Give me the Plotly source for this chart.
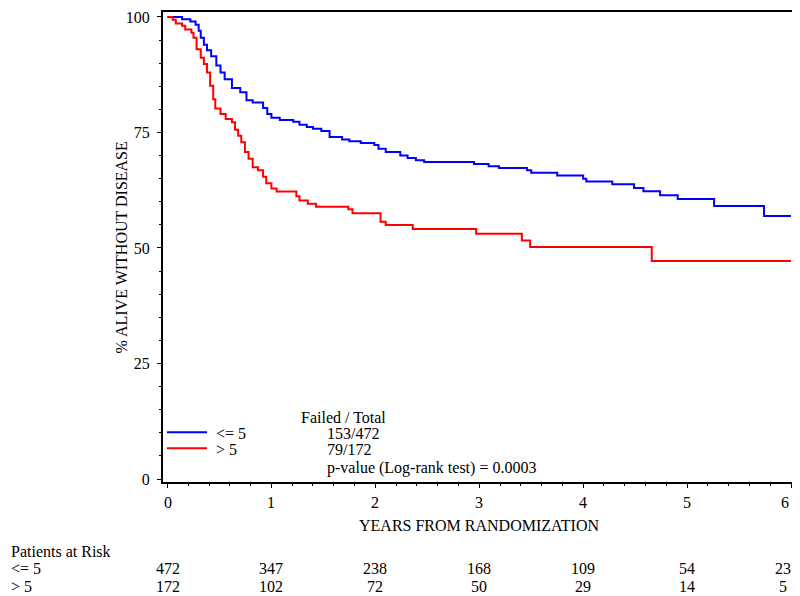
import plotly.graph_objects as go

# Kaplan-Meier step data (years, % alive without disease)
blue_name = "<= 5"
blue_t = [0, 0.14, 0.22, 0.27, 0.30, 0.32, 0.35, 0.38, 0.42, 0.47, 0.51, 0.55, 0.62, 0.70, 0.76,
          0.82, 0.92, 0.96, 1.00, 1.08, 1.21, 1.27, 1.34, 1.40, 1.48, 1.56, 1.68, 1.75, 1.86, 1.99,
          2.03, 2.10, 2.24, 2.31, 2.39, 2.47, 2.95, 3.09, 3.19, 3.46, 3.50, 3.75, 4.00, 4.03, 4.28,
          4.49, 4.58, 4.74, 4.91, 5.26, 5.74, 6.00]
blue_s = [100, 99.5, 99.0, 98.3, 97.0, 95.5, 94.0, 92.8, 91.5, 89.5, 88.0, 86.5, 84.6, 83.7, 82.0,
          81.5, 80.3, 79.0, 78.2, 77.7, 77.3, 76.7, 76.2, 75.8, 75.3, 74.0, 73.5, 73.1, 72.7, 72.3,
          71.5, 70.8, 70.0, 69.5, 69.0, 68.6, 68.2, 67.7, 67.3, 66.8, 66.3, 65.7, 65.0, 64.4, 63.8,
          63.0, 62.3, 61.4, 60.6, 59.1, 56.9, 56.9]

red_name = "> 5"
red_t = [0, 0.05, 0.08, 0.14, 0.17, 0.23, 0.25, 0.28, 0.32, 0.35, 0.38, 0.41, 0.44, 0.46, 0.51,
         0.56, 0.62, 0.65, 0.68, 0.71, 0.745, 0.78, 0.82, 0.87, 0.92, 0.95, 1.00, 1.05, 1.24, 1.27,
         1.35, 1.43, 1.74, 1.78, 2.05, 2.10, 2.36, 2.97, 3.41, 3.49, 4.66, 6.00]
red_s = [100, 99.4, 98.6, 98.1, 97.3, 96.6, 95.5, 93.0, 91.2, 89.8, 88.0, 85.1, 82.2, 80.2, 79.0,
         77.9, 77.2, 75.6, 74.3, 72.9, 70.8, 69.3, 67.5, 66.8, 65.4, 64.0, 62.9, 62.2, 61.2, 60.3,
         59.6, 58.9, 58.4, 57.5, 55.7, 55.0, 54.1, 53.1, 51.6, 50.2, 47.2, 47.2]

failed_total = ["153/472", "79/172"]
p_value_text = "p-value (Log-rank test) = 0.0003"

risk_times = [0, 1, 2, 3, 4, 5, 6]
risk_blue = [472, 347, 238, 168, 109, 54, 23]
risk_red = [172, 102, 72, 50, 29, 14, 5]

x_ticks = [0, 1, 2, 3, 4, 5, 6]
y_ticks = [0, 25, 50, 75, 100]

FONT = "Liberation Serif"
FS = 16
BLUE = "#0000FF"
RED = "#FF0000"

fig = go.Figure()
fig.add_trace(go.Scatter(x=blue_t, y=blue_s, mode="lines", line=dict(color=BLUE, width=2, shape="hv"),
                         name=blue_name, showlegend=False))
fig.add_trace(go.Scatter(x=red_t, y=red_s, mode="lines", line=dict(color=RED, width=2, shape="hv"),
                         name=red_name, showlegend=False))

# page has an 8px body margin: figure origin at page (8, 8)
OFF = 8
FIG_W, FIG_H = 800 - OFF, 596 - OFF
# plot area in page pixels
L, R, T, B = 163, 795, 9, 482
W, H = R - L, B - T


def px(xp):
    return (xp - L) / W


def py(yp):
    return (B - yp) / H


def txt(x, y, s, anchor="left", xref="paper", xshift=0):
    return dict(xref=xref, yref="paper", x=x, y=y, text=s, showarrow=False, xshift=xshift,
                xanchor=anchor, yanchor="middle", font=dict(family=FONT, size=FS, color="black"))


ann = []
shapes = []
# legend inside plot
for yy, col, name, ft in [(432, BLUE, blue_name, failed_total[0]), (448, RED, red_name, failed_total[1])]:
    shapes.append(dict(type="line", xref="paper", yref="paper", x0=px(167), x1=px(207), y0=py(yy), y1=py(yy),
                       line=dict(color=col, width=2)))
    ann.append(txt(px(214), py(yy + 1), name))
    ann.append(txt(px(325), py(yy + 1), ft))
ann.append(txt(px(343), py(417), "Failed / Total", "center"))
ann.append(txt(px(325), py(468), p_value_text))

# x tick labels (last one pulled inside the page edge, as in the original)
last = len(x_ticks) - 1
for i, v in enumerate(x_ticks):
    ann.append(txt(v, py(503), str(v), "center", "x", -6 if i == last else 0))

# axis titles
ann.append(txt(0.5, py(526), "YEARS FROM RANDOMIZATION", "center"))
yt = txt(px(121), py(246), "% ALIVE WITHOUT DISEASE", "center")
yt["textangle"] = -90
ann.append(yt)

# risk table
ann.append(txt(px(9), py(552), "Patients at Risk"))
ann.append(txt(px(9), py(569), blue_name))
ann.append(txt(px(9), py(587), red_name))
for i, (t, nb, nr) in enumerate(zip(risk_times, risk_blue, risk_red)):
    sh = -8 if i == len(risk_times) - 1 else 0
    ann.append(txt(t, py(569), str(nb), "center", "x", sh))
    ann.append(txt(t, py(587), str(nr), "center", "x", sh))

# axis ranges derived from pixel geometry: 0 -> x=167.5, 6 -> x=791; 100 -> y=14, 0 -> y=479
X0, X6 = 167.5, 791.0
x_per = (X6 - X0) / 6.0
y_per = (479 - 14) / 100.0
x_rng = [-(X0 - L) / x_per, 6.0 + (R - X6) / x_per]
y_rng = [-(B - 479) / y_per, 100 + (14 - T) / y_per]

fig.update_layout(
    width=FIG_W, height=FIG_H,
    margin=dict(l=L - OFF, r=FIG_W - (R - OFF), t=T - OFF, b=FIG_H - (B - OFF), pad=0),
    paper_bgcolor="white", plot_bgcolor="white",
    font=dict(family=FONT, size=FS, color="black"),
    annotations=ann, shapes=shapes, showlegend=False,
    xaxis=dict(range=x_rng, tickvals=x_ticks, showticklabels=False,
               ticks="outside", ticklen=4, tickwidth=1, tickcolor="black",
               minor=dict(dtick=0.2, ticks="outside", ticklen=2, tickcolor="black", showgrid=False),
               showline=True, linecolor="black", linewidth=2, mirror=True, showgrid=False, zeroline=False),
    yaxis=dict(range=y_rng, tickvals=y_ticks, ticktext=[str(v) for v in y_ticks],
               ticks="outside", ticklen=4, tickwidth=1, tickcolor="black",
               minor=dict(dtick=5, ticks="outside", ticklen=2, tickcolor="black", showgrid=False),
               showline=True, linecolor="black", linewidth=2, mirror=True, showgrid=False, zeroline=False,
               ticklabeloverflow="allow", ticklabelstandoff=4,
               tickfont=dict(family=FONT, size=FS, color="black")),
)

fig.write_html("out.html")
